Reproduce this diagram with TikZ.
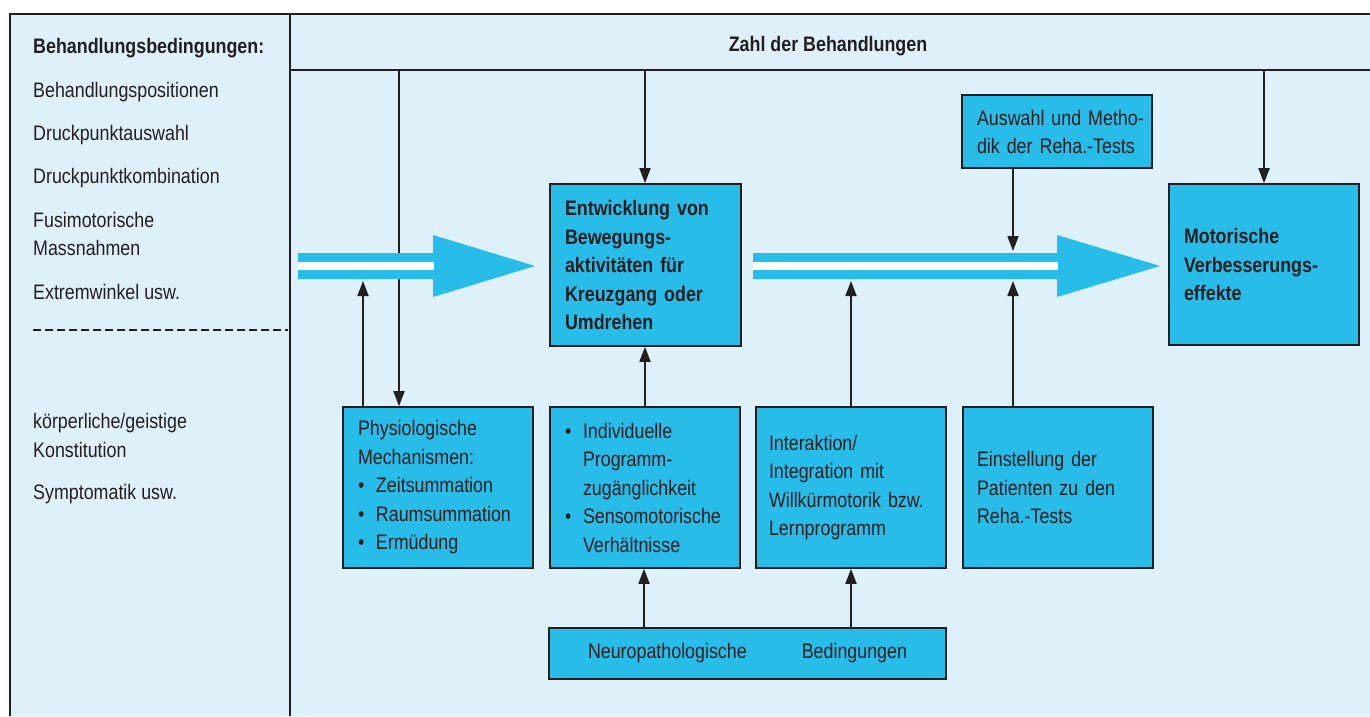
\documentclass[tikz,border=0pt]{standalone}
\usepackage{fontspec}
\setmainfont{Liberation Sans}[FakeStretch=0.85]
\usetikzlibrary{arrows.meta}
\definecolor{cy}{RGB}{40,188,232}
\definecolor{bgb}{RGB}{222,240,250}
\definecolor{ink}{RGB}{35,31,32}
\newcommand\mybul{\makebox[18pt][l]{•}}
\newcommand\myind{\hspace*{18pt}}
\begin{document}
\begin{tikzpicture}[x=1pt,y=-1pt,
  box/.style={draw=ink,line width=1.6pt,fill=cy,inner xsep=15pt,inner ysep=0pt,
    align=left,font=\fontsize{21}{28.5}\selectfont,text=ink},
  frameline/.style={draw=ink,line width=1.5pt},
  conn/.style={draw=ink,line width=1.8pt},
  arr/.style={conn,-{Triangle[length=15pt,width=11pt]}},
  lbl/.style={anchor=base west,inner sep=0pt,font=\fontsize{21}{25}\selectfont,text=ink},
]
\useasboundingbox (0,0) rectangle (1370,716);
\fill[white] (0,0) rectangle (1370,716);
\fill[bgb] (10,14) rectangle (1370,716);

% frame
\draw[frameline] (10,716) -- (10,14) -- (1370,14);
\draw[frameline] (290,14) -- (290,716);
\draw[frameline] (290,70) -- (1370,70);

% header
\node[anchor=base,inner sep=0pt,font=\fontsize{21}{25}\selectfont\bfseries,text=ink] (hdr) at (828,51) {Zahl der Behandlungen};

% left column
\node[lbl,font=\fontsize{21}{25}\selectfont\bfseries] (l0) at (33,53) {Behandlungsbedingungen:};
\node[lbl] (l1) at (33,97) {Behandlungspositionen};
\node[lbl] (l2) at (33,140) {Druckpunktauswahl};
\node[lbl] (l3) at (33,183) {Druckpunktkombination};
\node[lbl] (l4) at (33,227) {Fusimotorische};
\node[lbl] (l5) at (33,255) {Massnahmen};
\node[lbl] (l6) at (33,299) {Extremwinkel usw.};
\draw[ink,line width=1.8pt,dash pattern=on 8pt off 4pt] (33,330) -- (288,330);
\node[lbl] (l7) at (33,428) {körperliche/geistige};
\node[lbl] (l8) at (33,457) {Konstitution};
\node[lbl] (l9) at (33,499) {Symptomatik usw.};

% boxes
\node[box,minimum width=191pt,minimum height=162pt,text width=161pt,font=\fontsize{21}{28.5}\selectfont\bfseries] (ent) at (645.5,265)
  {Entwicklung von\\Bewegungs-\\aktivitäten für\\Kreuzgang oder\\Umdrehen};
\node[box,minimum width=190pt,minimum height=161pt,text width=160pt,font=\fontsize{21}{28.5}\selectfont\bfseries] (mot) at (1264,264.5)
  {Motorische\\Verbesserungs-\\effekte};
\node[box,minimum width=190pt,minimum height=73pt,text width=160pt,font=\fontsize{21}{28}\selectfont] (ausw) at (1057,131.5)
  {\mbox{Auswahl und Metho-}\\\mbox{dik der Reha.-Tests}};
\node[box,minimum width=190pt,minimum height=161pt,text width=160pt] (phys) at (438,487.5)
  {Physiologische\\Mechanismen:\\\mybul Zeitsummation\\\mybul Raumsummation\\\mybul Ermüdung};
\node[box,minimum width=190pt,minimum height=161pt,text width=160pt] (indiv) at (645,487.5)
  {\mybul Individuelle\\\myind Programm-\\\myind zugänglichkeit\\\mybul Sensomotorische\\\myind Verhältnisse};
\node[box,minimum width=190pt,minimum height=161pt,text width=164pt,inner xsep=13pt] (inter) at (851,487.5)
  {Interaktion/\\Integration mit\\Willkürmotorik bzw.\\Lernprogramm};
\node[box,minimum width=190pt,minimum height=161pt,text width=162pt,inner xsep=14pt] (einst) at (1058,487.5)
  {Einstellung der\\Patienten zu den\\Reha.-Tests};
\node[box,minimum width=397pt,minimum height=51pt,align=center,text width=367pt] (neuro) at (747.5,653.5)
  {Neuropathologische\hspace{55pt}Bedingungen};

% connector coordinates
\coordinate (t1) at (399,70);
\coordinate (t2) at (645,70);
\coordinate (t3) at (1264,70);
\coordinate (p1) at (363,281);
\coordinate (n1) at (644,0);
\coordinate (s2lo) at (851,281);
\coordinate (s3lo) at (1013,281);
\coordinate (s3up) at (1013,251);

% line behind big arrow 1
\draw[arr] (t1) -- (t1 |- phys.north);

% big arrow 1
\fill[cy] (298,253) -- (433,253) -- (433,235) -- (535,266) -- (433,297) -- (433,279) -- (298,279) -- cycle;
\fill[white] (298,262) rectangle (434,270);
% big arrow 2
\fill[cy] (753,253) -- (1057,253) -- (1057,235) -- (1160,266) -- (1057,297) -- (1057,279) -- (753,279) -- cycle;
\fill[white] (753,262) rectangle (1058,270);

% connectors
\draw[arr] (t2) -- (t2 |- ent.north);
\draw[arr] (t3) -- (t3 |- mot.north);
\draw[arr] (phys.north -| p1) -- (p1);
\draw[arr] (indiv.north) -- (indiv.north |- ent.south);
\draw[arr] (neuro.north -| n1) -- (indiv.south -| n1);
\draw[arr] (neuro.north -| inter.north) -- (inter.south);
\draw[arr] (inter.north) -- (s2lo);
\draw[arr] (einst.north -| s3lo) -- (s3lo);
\draw[arr] (ausw.south -| s3up) -- (s3up);
\end{tikzpicture}
\end{document}
